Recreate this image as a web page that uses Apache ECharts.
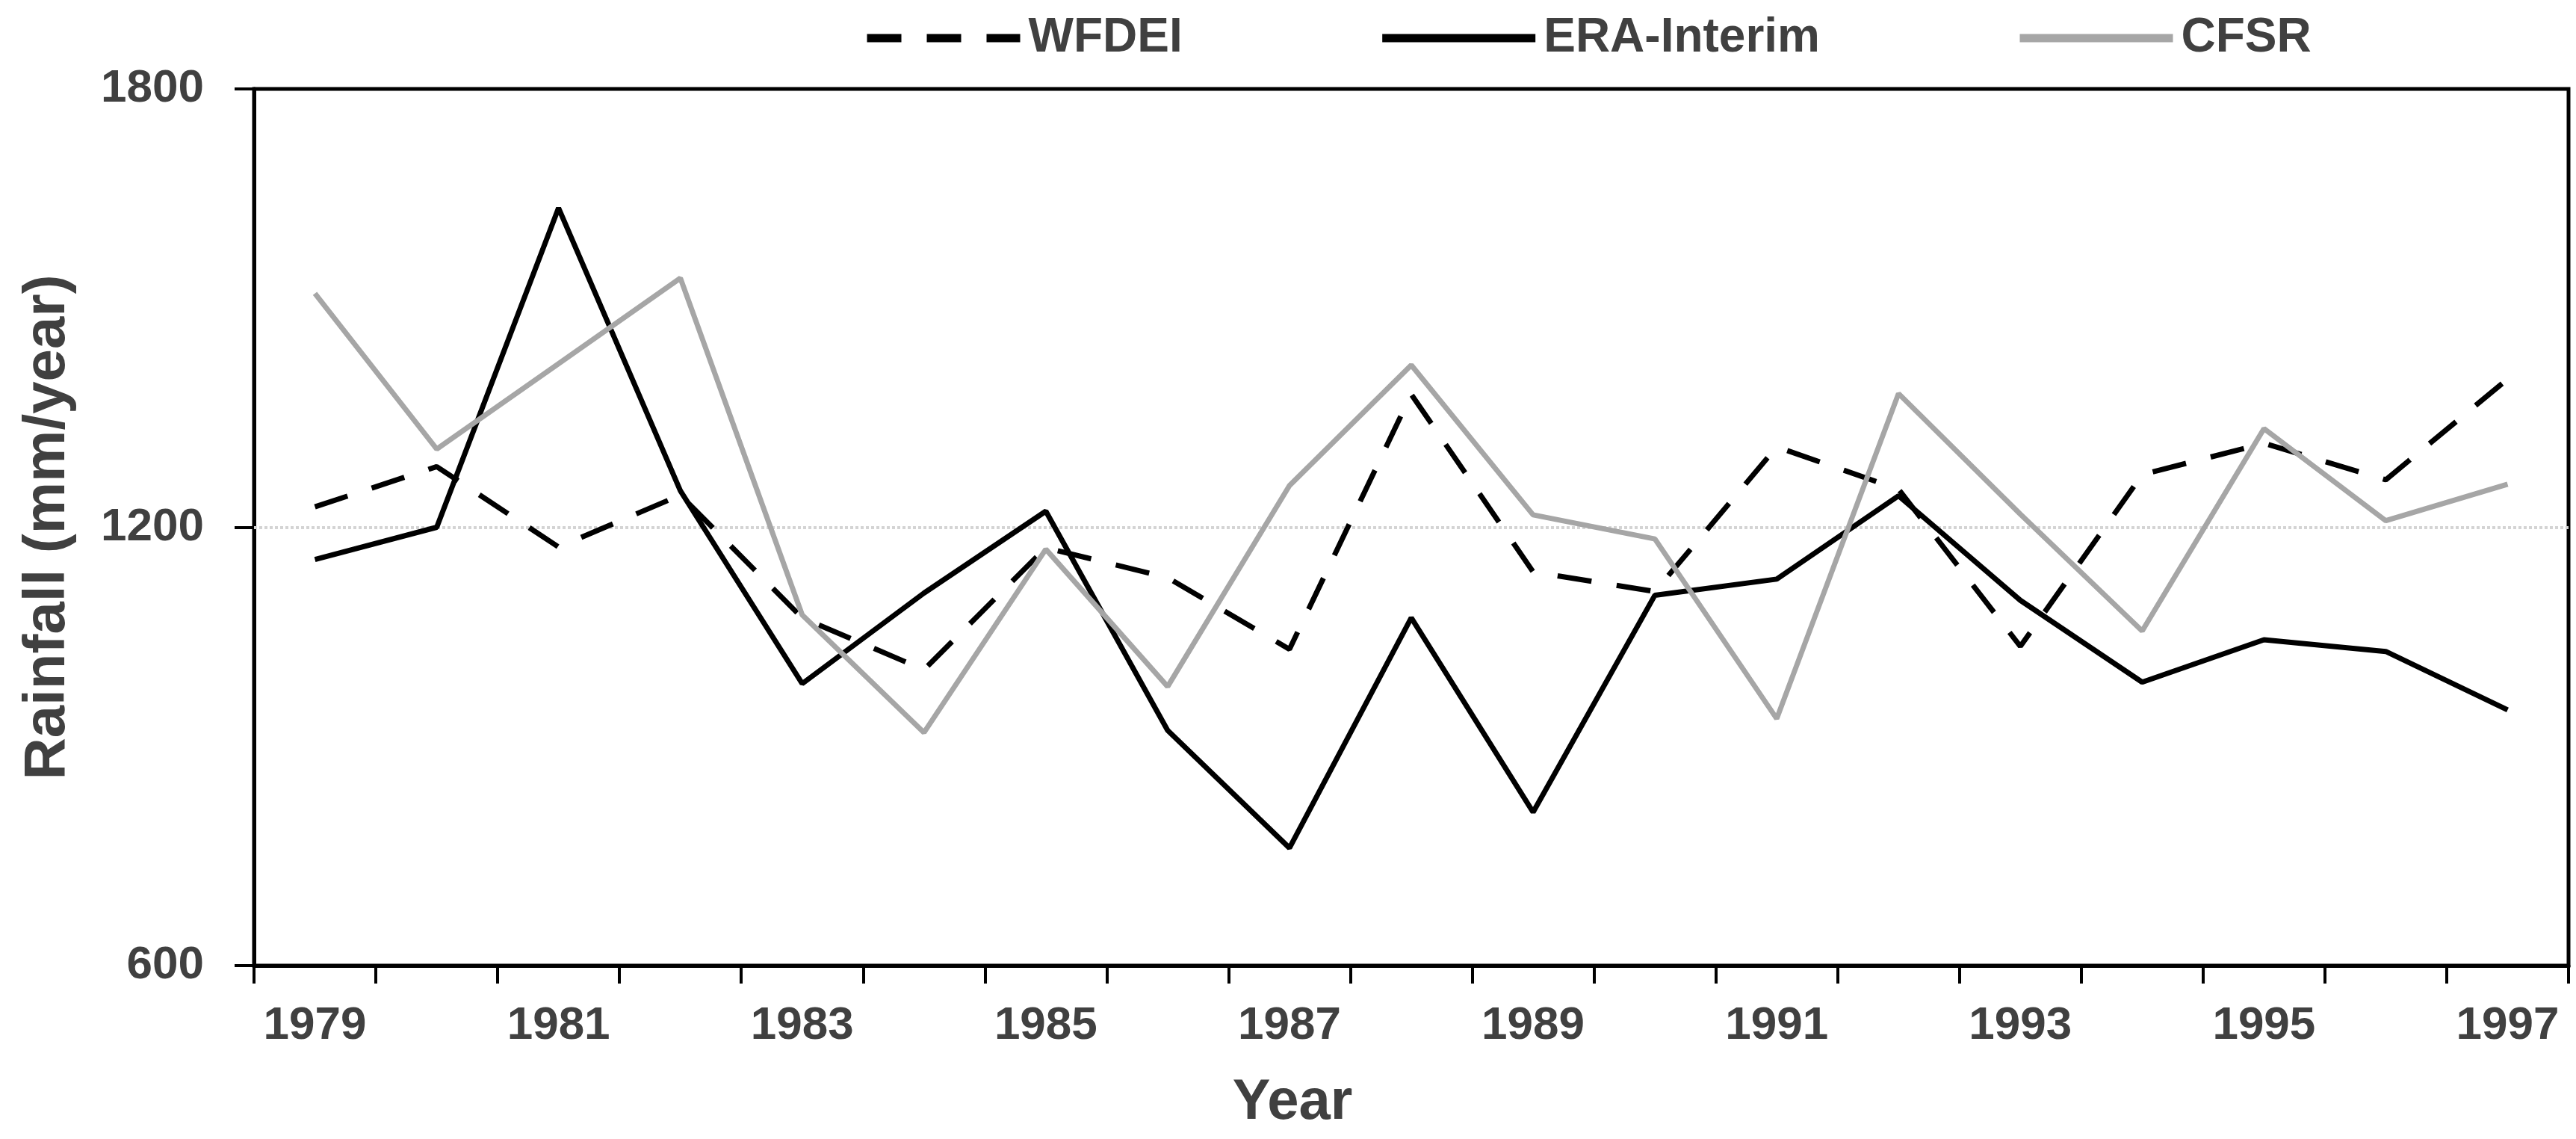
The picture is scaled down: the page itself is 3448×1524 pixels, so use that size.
<!DOCTYPE html>
<html>
<head>
<meta charset="utf-8">
<script src="https://cdn.jsdelivr.net/npm/echarts@6/dist/echarts.min.js"></script>
<style>
html,body{margin:0;padding:0;background:#fff;}
#chart{width:3448px;height:1524px;}
</style>
</head>
<body>
<div id="chart"></div>
<script>
const years = ['1979','1980','1981','1982','1983','1984','1985','1986','1987','1988','1989','1990','1991','1992','1993','1994','1995','1996','1997'];
const wfdei = [1228, 1283, 1173, 1244, 1076, 1005, 1172, 1131, 1033, 1382, 1139, 1112, 1310, 1252, 1037, 1272, 1315, 1265, 1403];
const eraInterim = [1156, 1200, 1637, 1250, 986, 1110, 1222, 922, 761, 1076, 810, 1107, 1129, 1243, 1100, 988, 1046, 1030, 950];
const cfsr = [1520, 1307, 1424, 1541, 1080, 919, 1170, 982, 1257, 1422, 1217, 1184, 938, 1383, 1218, 1058, 1335, 1209, 1259];
const yTicks = {min: 600, max: 1800, interval: 600};
const refLine = 1200;

const textColor = '#404040';
const font = 'Liberation Sans';

const chart = echarts.init(document.getElementById('chart'));
chart.setOption({
  backgroundColor: '#fff',
  animation: false,
  textStyle: {fontFamily: font},
  legend: {
    left: 1150,
    top: 14,
    itemWidth: 205,
    itemHeight: 40,
    itemGap: 262,
    itemStyle: {opacity: 0},
    lineStyle: {width: 11},
    textStyle: {fontFamily: font, fontSize: 64, fontWeight: 'bold', color: textColor, padding: [0, 0, 0, 6]},
    data: ['WFDEI', 'ERA-Interim', 'CFSR']
  },
  grid: {
    left: 340, right: 10, top: 119, bottom: 232,
    show: true, borderColor: '#000', borderWidth: 5, backgroundColor: 'transparent'
  },
  xAxis: {
    type: 'category',
    data: years,
    boundaryGap: true,
    name: 'Year',
    nameLocation: 'middle',
    nameGap: 146,
    nameTextStyle: {fontFamily: font, fontSize: 76, fontWeight: 'bold', color: textColor, padding: [0, 318, 0, 0]},
    axisLine: {show: true, lineStyle: {color: '#000', width: 5}},
    axisTick: {show: true, interval: 0, length: 24, lineStyle: {color: '#000', width: 4}},
    axisLabel: {interval: 1, margin: 50, fontFamily: font, fontSize: 62, fontWeight: 'bold', color: textColor},
    splitLine: {show: false}
  },
  yAxis: {
    type: 'value',
    min: yTicks.min, max: yTicks.max, interval: yTicks.interval,
    name: 'Rainfall (mm/year)',
    nameLocation: 'middle',
    nameGap: 237,
    nameTextStyle: {fontFamily: font, fontSize: 78, fontWeight: 'bold', color: textColor},
    axisLine: {show: true, lineStyle: {color: '#000', width: 5}},
    axisTick: {show: true, length: 26, lineStyle: {color: '#000', width: 4}},
    axisLabel: {margin: 67, fontFamily: font, fontSize: 62, fontWeight: 'bold', color: textColor,
      formatter: function (v) { return String(v); }},
    splitLine: {show: false}
  },
  series: [
    {
      name: 'WFDEI', type: 'line', data: wfdei, symbol: 'none',
      lineStyle: {color: '#000', width: 7, type: [46, 34]},
      itemStyle: {color: '#000'},
      markLine: {
        silent: true, z: 1, symbol: ['none', 'none'], label: {show: false},
        lineStyle: {color: '#d4d4d4', width: 4, type: [4, 3]},
        data: [{yAxis: refLine}]
      }
    },
    {
      name: 'ERA-Interim', type: 'line', data: eraInterim, symbol: 'none',
      lineStyle: {color: '#000', width: 7},
      itemStyle: {color: '#000'}
    },
    {
      name: 'CFSR', type: 'line', data: cfsr, symbol: 'none',
      lineStyle: {color: '#a6a6a6', width: 7},
      itemStyle: {color: '#a6a6a6'}
    }
  ]
});
</script>
</body>
</html>
